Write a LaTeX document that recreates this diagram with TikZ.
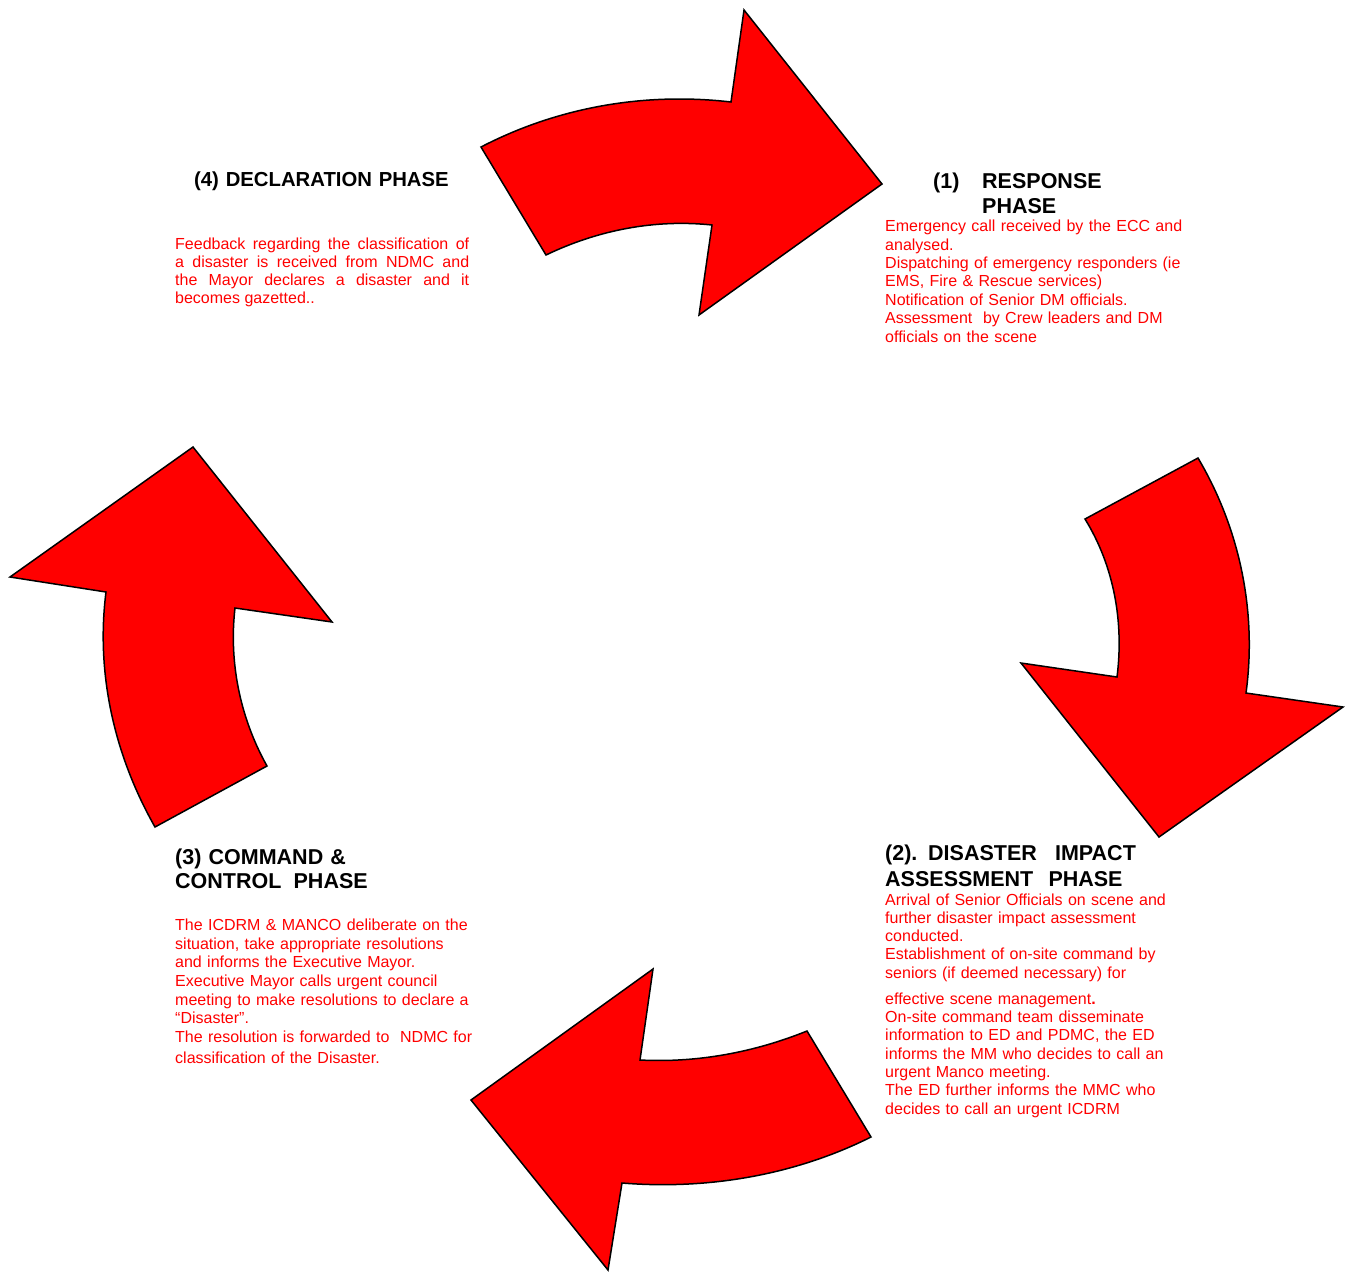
\documentclass[tikz,border=0pt]{standalone}
\usepackage{fontspec}
\setmainfont{Liberation Sans}
\begin{document}
\begin{tikzpicture}[x=1pt,y=-1pt,
  cyclearrow/.style={fill=red, draw=black, line width=1.5pt, line join=miter},
  phasehead/.style={anchor=base west, inner sep=0pt, text width=330pt, align=left,
    font=\fontsize{21.5}{25}\selectfont\bfseries},
  phasebody/.style={anchor=base west, inner sep=0pt, text=red, text width=330pt, align=left,
    font=\fontsize{16}{18.4}\selectfont}]
\useasboundingbox (0,0) rectangle (1349,1272);

% four curved arrows forming the cycle (arcs approximated by cubic curves)
\draw[cyclearrow] (481,147) .. controls (558,107) and (645,92) .. (731,102) -- (744,10) -- (882,184)
  -- (699,315) -- (712,225) .. controls (655,219) and (598,230) .. (546,255) -- cycle;
\draw[cyclearrow] (1085,519) -- (1198,458) .. controls (1240,529) and (1257,612) .. (1246,693) -- (1343,707)
  -- (1159,837) -- (1021,663) -- (1117,677) .. controls (1124,622) and (1114,566) .. (1085,519) -- cycle;
\draw[cyclearrow] (807,1031) -- (871,1137) .. controls (795,1175) and (708,1190) .. (622,1183) -- (608,1270)
  -- (471,1100) -- (653,969) -- (640,1060) .. controls (698,1063) and (755,1052) .. (807,1031) -- cycle;
\draw[cyclearrow] (267,766) -- (155,827) .. controls (113,753) and (96,671) .. (106,592) -- (10,577)
  -- (193,447) -- (332,622) -- (235,608) .. controls (229,660) and (239,716) .. (267,766) -- cycle;

% (4) declaration phase
\node[phasehead, font=\fontsize{20.3}{24}\selectfont\bfseries] (h4) at (194,186) {(4) DECLARATION PHASE};
\node[phasebody, text width=294pt, align=justify, font=\fontsize{16}{18}\selectfont] (b4) at (175,249.3)
  {Feedback regarding the classification of\linebreak a disaster is received from NDMC and\linebreak
   the Mayor declares a disaster and it\linebreak becomes gazetted..};

% (1) response phase
\node[phasehead, text width=40pt] (h1n) at (933,188) {(1)};
\node[phasehead] (h1) at (982,188) {RESPONSE\\PHASE};
\node[phasebody] (b1) at (885,231.7)
  {Emergency call received by the ECC and\\
   analysed.\\
   Dispatching of emergency responders (ie\\
   EMS, Fire \& Rescue services)\\
   Notification of Senior DM officials.\\
   Assessment \ by Crew leaders and DM\\
   officials on the scene};

% (2) disaster impact assessment phase
\node[phasehead, font=\fontsize{21.5}{26}\selectfont\bfseries] (h2) at (885,860.7)
  {(2). DISASTER\hspace{11pt} IMPACT\\ASSESSMENT\hspace{8pt} PHASE};
\node[phasebody, font=\fontsize{16}{18.3}\selectfont] (b2) at (885,905)
  {Arrival of Senior Officials on scene and\\
   further disaster impact assessment\\
   conducted.\\
   Establishment of on-site command by\\
   seniors (if deemed necessary) for\\[7.7pt]
   effective scene management\textbf{.}\\
   On-site command team disseminate\\
   information to ED and PDMC, the ED\\
   informs the MM who decides to call an\\
   urgent Manco meeting.\\
   The ED further informs the MMC who\\
   decides to call an urgent ICDRM};

% (3) command & control phase
\node[phasehead, font=\fontsize{21.5}{24}\selectfont\bfseries] (h3) at (175,864)
  {(3) COMMAND \&\\CONTROL\hspace{5pt} PHASE};
\node[phasebody, font=\fontsize{16}{18.6}\selectfont] (b3) at (175,930.7)
  {The ICDRM \& MANCO deliberate on the\\
   situation, take appropriate resolutions\\
   and informs the Executive Mayor.\\
   Executive Mayor calls urgent council\\
   meeting to make resolutions to declare a\\
   “Disaster”.\\
   The resolution is forwarded to \ NDMC for\\[2.4pt]
   classification of the Disaster.};
\end{tikzpicture}
\end{document}
